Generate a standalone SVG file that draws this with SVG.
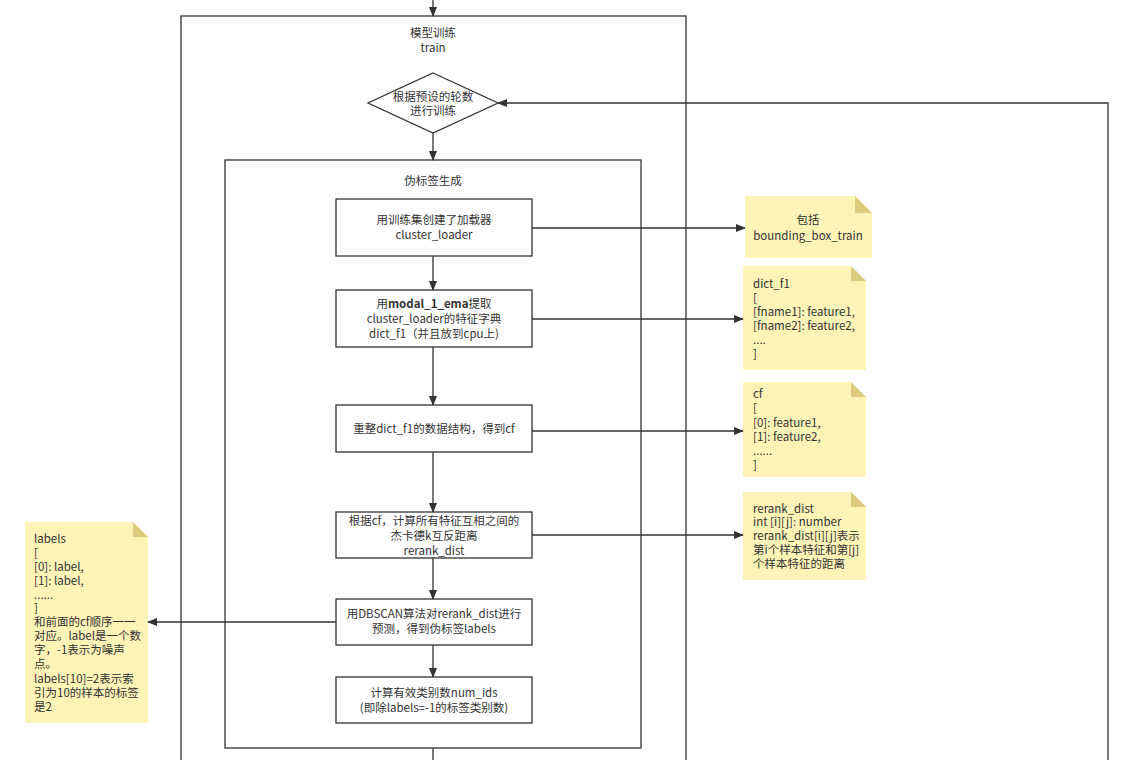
<svg xmlns="http://www.w3.org/2000/svg" width="1136" height="760" viewBox="0 0 1136 760">
<style>
text{font-family:"Microsoft YaHei","Noto Sans CJK SC","Liberation Sans",sans-serif;font-size:11.5px;fill:#333}
.c{text-anchor:middle}
.box{fill:#fff;stroke:#333;stroke-width:1.3}
.grp{fill:none;stroke:#333;stroke-width:1.3}
.note{fill:#fff4b8}
.fold{fill:#dccb7e}
.ln{fill:none;stroke:#333;stroke-width:1.3}
</style>
<defs>
<marker id="ah" markerWidth="10" markerHeight="8" refX="9" refY="4" orient="auto" markerUnits="userSpaceOnUse">
<path d="M0,0 L10,4 L0,8 Z" fill="#333"/>
</marker>
</defs>
<rect width="1136" height="760" fill="#fff"/>
<g id="train">
<rect class="grp" x="181" y="16" width="505" height="760"/>
<text class="c" x="433" y="37">模型训练</text>
<text class="c" x="433" y="52">train</text>
</g>
<g id="pseudo">
<rect class="grp" x="225" y="160" width="416" height="588"/>
<text class="c" x="433" y="185">伪标签生成</text>
</g>
<g id="epoch">
<polygon class="box" points="433,73 498,103 433,133 368,103"/>
<text class="c" x="433" y="101">根据预设的轮数</text>
<text class="c" x="433" y="115">进行训练</text>
</g>
<g id="n1">
<rect class="box" x="336" y="199" width="196" height="57"/>
<text class="c" x="434" y="224">用训练集创建了加载器</text>
<text class="c" x="434" y="239">cluster_loader</text>
</g>
<g id="n2">
<rect class="box" x="336" y="290" width="196" height="57"/>
<text class="c" x="434" y="308">用<tspan font-weight="bold">modal_1_ema</tspan>提取</text>
<text class="c" x="434" y="323">cluster_loader的特征字典</text>
<text class="c" x="434" y="338">dict_f1（并且放到cpu上)</text>
</g>
<g id="n3">
<rect class="box" x="336" y="405" width="196" height="47"/>
<text class="c" x="434" y="433">重整dict_f1的数据结构，得到cf</text>
</g>
<g id="n4">
<rect class="box" x="336" y="512" width="196" height="46"/>
<text class="c" x="434" y="525">根据cf，计算所有特征互相之间的</text>
<text class="c" x="434" y="540">杰卡德k互反距离</text>
<text class="c" x="434" y="555">rerank_dist</text>
</g>
<g id="n5">
<rect class="box" x="336" y="599" width="196" height="46"/>
<text class="c" x="434" y="618">用DBSCAN算法对rerank_dist进行</text>
<text class="c" x="434" y="633">预测，得到伪标签labels</text>
</g>
<g id="n6">
<rect class="box" x="336" y="677" width="196" height="46"/>
<text class="c" x="434" y="697">计算有效类别数num_ids</text>
<text class="c" x="434" y="712">(即除labels=-1的标签类别数)</text>
</g>
<g id="note1">
<path class="note" d="M745,196 H855 L872,213 V258 H745 Z"/>
<path class="fold" d="M855,196 L872,213 H855 Z"/>
<text class="c" x="808" y="224">包括</text>
<text class="c" x="808" y="240">bounding_box_train</text>
</g>
<g id="note2">
<path class="note" d="M743,266 H851 L866,281 V370 H743 Z"/>
<path class="fold" d="M851,266 L866,281 H851 Z"/>
<text x="753" y="288">dict_f1</text>
<text x="753" y="302">[</text>
<text x="753" y="316">[fname1]: feature1,</text>
<text x="753" y="330">[fname2]: feature2,</text>
<text x="753" y="344">....</text>
<text x="753" y="358">]</text>
</g>
<g id="note3">
<path class="note" d="M743,382 H851 L866,397 V477 H743 Z"/>
<path class="fold" d="M851,382 L866,397 H851 Z"/>
<text x="753" y="398">cf</text>
<text x="753" y="412">[</text>
<text x="753" y="427">[0]: feature1,</text>
<text x="753" y="441">[1]: feature2,</text>
<text x="753" y="455">......</text>
<text x="753" y="469">]</text>
</g>
<g id="note4">
<path class="note" d="M743,492 H851 L866,507 V580 H743 Z"/>
<path class="fold" d="M851,492 L866,507 H851 Z"/>
<text x="753" y="513">rerank_dist</text>
<text x="753" y="526">int [i][j]: number</text>
<text x="753" y="540">rerank_dist[i][j]表示</text>
<text x="753" y="554">第i个样本特征和第[j]</text>
<text x="753" y="568">个样本特征的距离</text>
</g>
<g id="note5">
<path class="note" d="M25,522 H133 L148,537 V723 H25 Z"/>
<path class="fold" d="M133,522 L148,537 H133 Z"/>
<text x="34" y="543">labels</text>
<text x="34" y="557">[</text>
<text x="34" y="571">[0]: label,</text>
<text x="34" y="585">[1]: label,</text>
<text x="34" y="599">......</text>
<text x="34" y="612">]</text>
<text x="34" y="626">和前面的cf顺序一一</text>
<text x="34" y="640">对应。label是一个数</text>
<text x="34" y="654">字，-1表示为噪声</text>
<text x="34" y="668">点。</text>
<text x="34" y="683">labels[10]=2表示索</text>
<text x="34" y="697">引为10的样本的标签</text>
<text x="34" y="711">是2</text>
</g>
<g id="connectors">
<path class="ln" d="M433,0 V16" marker-end="url(#ah)"/>
<path class="ln" d="M433,133 V160" marker-end="url(#ah)"/>
<path class="ln" d="M433,256 V290" marker-end="url(#ah)"/>
<path class="ln" d="M433,347 V405" marker-end="url(#ah)"/>
<path class="ln" d="M433,452 V512" marker-end="url(#ah)"/>
<path class="ln" d="M433,558 V599" marker-end="url(#ah)"/>
<path class="ln" d="M433,645 V677" marker-end="url(#ah)"/>
<path class="ln" d="M433,748 V760"/>
<path class="ln" d="M532,228 H745" marker-end="url(#ah)"/>
<path class="ln" d="M532,319 H743" marker-end="url(#ah)"/>
<path class="ln" d="M532,431 H743" marker-end="url(#ah)"/>
<path class="ln" d="M532,535 H743" marker-end="url(#ah)"/>
<path class="ln" d="M336,622 H148" marker-end="url(#ah)"/>
<path class="ln" d="M1108,760 V103 H498" marker-end="url(#ah)"/>
</g>
</svg>
